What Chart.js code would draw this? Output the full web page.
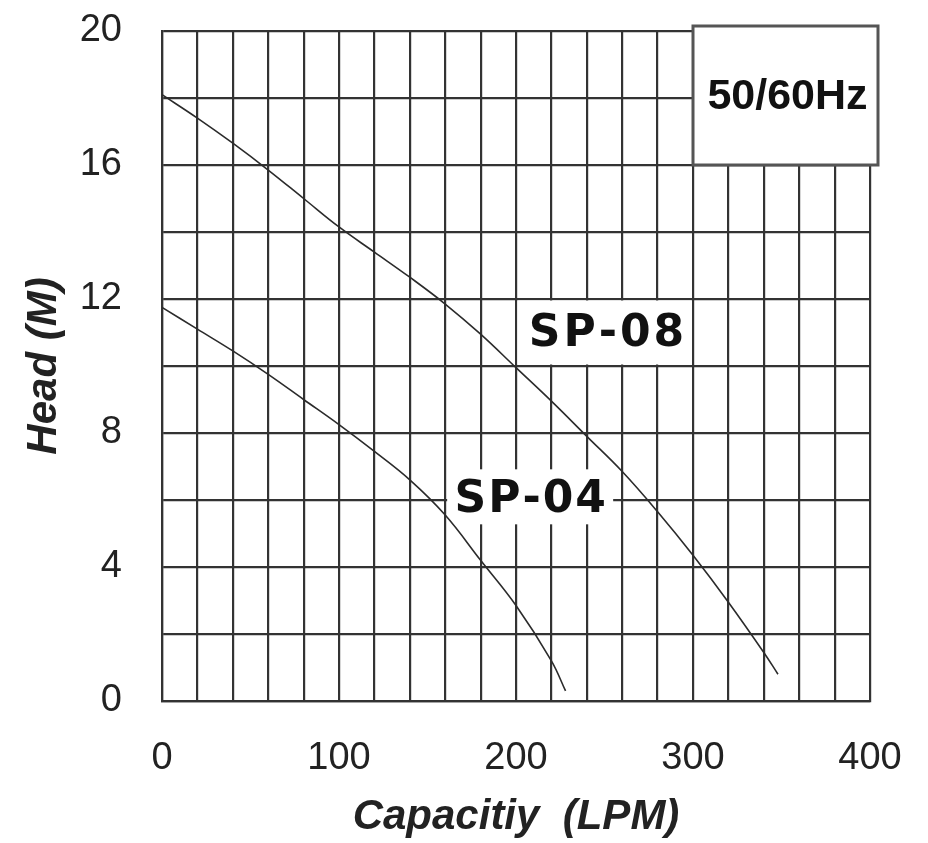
<!DOCTYPE html>
<html><head><meta charset="utf-8">
<script src="https://cdn.jsdelivr.net/npm/chart.js@4/dist/chart.umd.min.js"></script>
<style>html,body{margin:0;padding:0;background:#fff}#wrap{width:928px;height:843px;position:relative}</style>
</head><body><div id="wrap"><canvas id="c"></canvas></div>
<script>
// ---- data ----
const capacityTicks = [0, 100, 200, 300, 400];
const headTicks = [0, 4, 8, 12, 16, 20];
const sp08Capacity = [0, 20, 40, 60, 80, 100, 120, 140, 160, 180, 200, 220, 240, 260, 280, 300, 320, 340, 348];
const sp08Head     = [18.1, 17.4, 16.65, 15.85, 15.0, 14.15, 13.4, 12.65, 11.85, 10.95, 9.95, 8.95, 7.9, 6.85, 5.65, 4.35, 2.95, 1.45, 0.8];
const sp04Capacity = [0, 20, 40, 60, 80, 100, 120, 140, 160, 180, 200, 220, 228];
const sp04Head     = [11.75, 11.1, 10.45, 9.75, 9.0, 8.25, 7.45, 6.6, 5.55, 4.2, 2.85, 1.2, 0.3];
const seriesNames = ['SP-08', 'SP-04'];
const frequencyLabel = '50/60Hz';
const xTitle = 'Capacitiy  (LPM)';
const yTitle = 'Head (M)';

const toPoints = (xs, ys) => xs.map((v, i) => ({x: v, y: ys[i]}));
const INK = '#2b2b2b';
const GRID = '#333';

function spacedText(ctx, text, cx, cy, spacing) {
  const widths = [...text].map(ch => ctx.measureText(ch).width);
  const total = widths.reduce((a, b) => a + b, 0) + spacing * (text.length - 1);
  let x = cx - total / 2;
  ctx.textAlign = 'left';
  [...text].forEach((ch, i) => { ctx.fillText(ch, x, cy); x += widths[i] + spacing; });
}

const labelPlugin = {
  id: 'curveLabels',
  beforeDatasetsDraw(chart) {
    const {ctx, scales: {x, y}} = chart;
    ctx.save();
    let l = x.getPixelForValue(200), r = x.getPixelForValue(300);
    let t = y.getPixelForValue(12), b = y.getPixelForValue(10);
    ctx.fillStyle = '#fff';
    ctx.fillRect(l + 1.5, t + 1.5, r - l - 3, b - t - 3);
    ctx.fillStyle = '#111';
    ctx.font = 'bold 44px "DejaVu Sans", "Liberation Sans", Arial, sans-serif';
    ctx.textBaseline = 'middle';
    spacedText(ctx, seriesNames[0], (l + r) / 2 + 2, (t + b) / 2 + 2, 3);
    const cx = x.getPixelForValue(208), cy = y.getPixelForValue(6.05);
    ctx.fillStyle = '#fff';
    ctx.fillRect(cx - 83, cy - 29, 166, 55);
    ctx.fillStyle = '#111';
    spacedText(ctx, seriesNames[1], cx, cy + 2, 2);
    ctx.restore();
  },
  afterDatasetsDraw(chart) {
    const {ctx, scales: {x, y}, chartArea} = chart;
    ctx.save();
    const l = x.getPixelForValue(300), r = chartArea.right + 8;
    const t = chartArea.top - 5, b = y.getPixelForValue(16);
    ctx.fillStyle = '#fff';
    ctx.fillRect(l, t, r - l, b - t);
    ctx.strokeStyle = '#555';
    ctx.lineWidth = 3;
    ctx.strokeRect(l, t, r - l, b - t);
    ctx.fillStyle = '#111';
    ctx.font = 'bold 43px "Liberation Sans", Arial, sans-serif';
    ctx.textAlign = 'center';
    ctx.textBaseline = 'middle';
    ctx.fillText(frequencyLabel, (l + r) / 2 + 2, (t + b) / 2 + 2);
    ctx.restore();
  }
};

new Chart(document.getElementById('c'), {
  type: 'line',
  data: {
    datasets: [
      {label: seriesNames[0], data: toPoints(sp08Capacity, sp08Head), borderColor: INK, borderWidth: 1.6, pointRadius: 0, tension: 0.4, fill: false},
      {label: seriesNames[1], data: toPoints(sp04Capacity, sp04Head), borderColor: INK, borderWidth: 1.6, pointRadius: 0, tension: 0.4, fill: false}
    ]
  },
  options: {
    responsive: true,
    maintainAspectRatio: false,
    animation: false,
    layout: {padding: {top: 31, right: 58, left: 0, bottom: 0}},
    plugins: {legend: {display: false}, tooltip: {enabled: false}},
    scales: {
      x: {
        type: 'linear', min: 0, max: 400,
        afterFit(s) { s.height = 142; s.paddingLeft = 0; s.paddingRight = 0; },
        ticks: {
          stepSize: 20, autoSkip: false, maxRotation: 0, padding: 35,
          color: '#222', font: {family: '"Liberation Sans", Arial, sans-serif', size: 38},
          callback: v => capacityTicks.includes(v) ? String(v) : ''
        },
        grid: {color: GRID, lineWidth: 2.2, drawTicks: false},
        border: {color: GRID, width: 2.2},
        title: {display: true, text: xTitle, color: '#222', padding: {top: 0, bottom: 0},
          font: {family: '"Liberation Sans", Arial, sans-serif', size: 42, weight: 'bold', style: 'italic'}}
      },
      y: {
        type: 'linear', min: 0, max: 20,
        afterFit(s) { s.width = 162; s.paddingTop = 0; s.paddingBottom = 0; },
        ticks: {
          stepSize: 2, autoSkip: false, padding: 40,
          color: '#222', font: {family: '"Liberation Sans", Arial, sans-serif', size: 38},
          callback: v => headTicks.includes(v) ? String(v) : ''
        },
        grid: {color: GRID, lineWidth: 2.2, drawTicks: false},
        border: {color: GRID, width: 2.2},
        title: {display: true, text: yTitle, color: '#222', padding: {top: 19, bottom: 0},
          font: {family: '"Liberation Sans", Arial, sans-serif', size: 42, weight: 'bold', style: 'italic'}}
      }
    }
  },
  plugins: [labelPlugin]
});
</script></body></html>
